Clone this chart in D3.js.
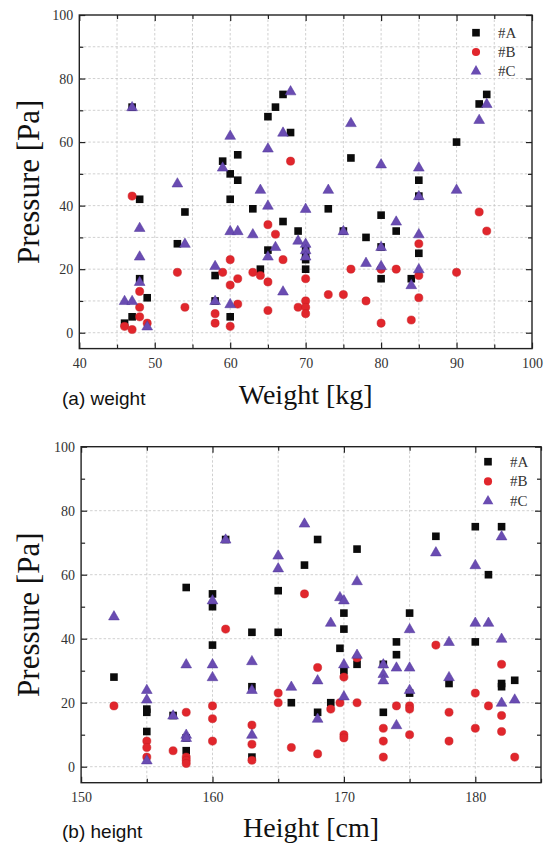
<!DOCTYPE html>
<html><head><meta charset="utf-8">
<script src="https://cdn.jsdelivr.net/npm/d3@7"></script>
<style>
html,body{margin:0;padding:0;background:#fff;}
svg{display:block;}
</style></head><body>
<script>
// ---------- DATA ----------
const seriesNames = ["#A", "#B", "#C"];

// (a) weight [kg] vs pressure [Pa]
const weightA = [[46,3],[47,5],[47,71],[48,42],[48,17],[49,11],[53,28],[54,38],[58,18],[58,10],[59,54],[60,50],[60,42],[60,5],[61,56],[61,48],[63,39],[64,20],[65,68],[65,26],[66,71],[67,75],[67,35],[68,63],[69,32],[70,26],[70,24],[70,23],[70,20],[73,39],[75,32],[76,55],[78,30],[80,37],[80,27],[80,17],[82,32],[84,17],[85,48],[85,43],[85,25],[90,60],[93,72],[94,75]];
const weightB = [[46,2],[47,43],[47,1],[48,13],[48,8],[48,5],[49,3],[53,19],[54,8],[58,6],[58,3],[59,19],[60,23],[60,15],[60,2],[61,17],[61,9],[63,19],[64,18],[65,34],[65,16],[65,7],[66,31],[67,23],[68,54],[69,8],[70,17],[70,10],[70,8],[70,6],[73,12],[75,12],[76,20],[78,10],[80,20],[80,3],[82,20],[84,4],[85,28],[85,18],[85,11],[90,19],[93,38],[94,32]];
const weightC = [[46,10],[47,71],[47,10],[48,33],[48,24],[48,16],[49,2],[53,47],[54,28],[58,21],[58,10],[59,52],[60,62],[60,32],[60,9],[61,32],[63,31],[64,45],[65,58],[65,40],[65,24],[66,27],[67,63],[67,13],[68,76],[69,29],[70,39],[70,28],[70,26],[70,24],[73,45],[75,32],[76,66],[78,22],[80,53],[80,27],[80,21],[82,35],[84,15],[85,52],[85,43],[85,31],[85,20],[90,45],[93,67],[94,72]];

// (b) height [cm] vs pressure [Pa]
const heightA = [[152.5,28],[155,18],[155,17],[155,11],[157,16],[158,56],[158,9],[158,5],[160,54],[160,50],[160,38],[161,71],[163,42],[163,25],[163,3],[165,55],[165,42],[166,20],[167,63],[168,71],[168,17],[169,20],[169.7,37],[170,48],[170,43],[170,30],[171,68],[171,32],[173,17],[173,32],[174,39],[174,35],[175,48],[175,23],[177,72],[178,26],[180,75],[180,39],[181,60],[182,75],[182,26],[182,25],[183,27]];
const heightB = [[152.5,19],[155,8],[155,6],[155,3],[157,5],[158,17],[158,3],[158,2],[158,1],[160,19],[160,15],[160,8],[161,43],[163,13],[163,7],[163,2],[165,23],[165,20],[166,6],[167,54],[168,31],[168,4],[169,18],[169.7,20],[170,28],[170,10],[170,9],[171,34],[171,20],[173,12],[173,8],[173,3],[174,19],[175,19],[175,18],[175,10],[177,38],[178,17],[178,8],[180,23],[180,12],[181,19],[182,32],[182,16],[182,11],[183,3]];
const heightC = [[152.5,47],[155,24],[155,21],[155,2],[157,16],[158,32],[158,10],[158,9],[160,52],[160,32],[160,28],[161,71],[163,33],[163,24],[163,10],[165,66],[165,62],[166,25],[167,76],[168,27],[168,15],[169,45],[169.7,53],[170,52],[170,32],[170,22],[171,58],[171,35],[173,32],[173,29],[173,27],[174,31],[174,13],[175,43],[175,31],[175,24],[177,67],[178,39],[178,28],[180,63],[180,45],[181,45],[182,72],[182,40],[182,20],[183,21]];

// ticks
const pressureTicks = [0, 20, 40, 60, 80, 100];
const pressureMinor = [10, 30, 50, 70, 90];
const weightTicks = [40, 50, 60, 70, 80, 90, 100];
const weightMinor = [45, 55, 65, 75, 85, 95];
const heightTicks = [150, 160, 170, 180];
const heightMinor = [155, 165, 175, 185];

// ---------- DRAW ----------
const W = 545, H = 845;
const svg = d3.select("body").append("svg").attr("width", W).attr("height", H);

const colors = {A: "#0b0b0b", B: "#e1262c", C: "#6a4cb2"};
const serif = "'Liberation Serif','Times New Roman',serif";
const sans = "'Liberation Sans',Arial,sans-serif";

function panel(cfg) {
  const g = svg.append("g");
  const x = d3.scaleLinear().domain(cfg.xDomain).range([cfg.left, cfg.right]);
  const y = d3.scaleLinear().domain([-5, 100]).range([cfg.bottom, cfg.top]);

  // grid
  g.append("g").selectAll("line").data(cfg.gridX).join("line")
    .attr("x1", d => x(d)).attr("x2", d => x(d))
    .attr("y1", cfg.top).attr("y2", cfg.bottom)
    .attr("stroke", "#c4c4c4").attr("stroke-width", 0.8).attr("stroke-dasharray", "2.5,2");
  g.append("g").selectAll("line").data(cfg.gridY).join("line")
    .attr("y1", d => y(d)).attr("y2", d => y(d))
    .attr("x1", cfg.left).attr("x2", cfg.right)
    .attr("stroke", "#c4c4c4").attr("stroke-width", 0.8).attr("stroke-dasharray", "2.5,2");

  // axes (inward ticks)
  const styleAxis = sel => {
    sel.select(".domain").remove();
    sel.selectAll(".tick line").attr("stroke", "#222").attr("stroke-width", 1.2);
    sel.selectAll("text").attr("font-family", serif).attr("font-size", 14).attr("fill", "#333");
  };
  g.append("g").attr("transform", `translate(0,${cfg.bottom})`)
    .call(d3.axisBottom(x).tickValues(cfg.xTicks).tickFormat(d3.format("d")).tickSizeInner(-6).tickSizeOuter(0).tickPadding(9)).call(styleAxis);
  g.append("g").attr("transform", `translate(0,${cfg.bottom})`)
    .call(d3.axisBottom(x).tickValues(cfg.xMinor).tickFormat("").tickSizeInner(-4).tickSizeOuter(0)).call(styleAxis);
  g.append("g").attr("transform", `translate(0,${cfg.top})`)
    .call(d3.axisTop(x).tickValues(cfg.xTicks).tickFormat("").tickSizeInner(-6).tickSizeOuter(0)).call(styleAxis);
  g.append("g").attr("transform", `translate(0,${cfg.top})`)
    .call(d3.axisTop(x).tickValues(cfg.xMinor).tickFormat("").tickSizeInner(-4).tickSizeOuter(0)).call(styleAxis);
  g.append("g").attr("transform", `translate(${cfg.left},0)`)
    .call(d3.axisLeft(y).tickValues(pressureTicks).tickFormat(d3.format("d")).tickSizeInner(-6).tickSizeOuter(0).tickPadding(6)).call(styleAxis);
  g.append("g").attr("transform", `translate(${cfg.left},0)`)
    .call(d3.axisLeft(y).tickValues(pressureMinor).tickFormat("").tickSizeInner(-4).tickSizeOuter(0)).call(styleAxis);
  g.append("g").attr("transform", `translate(${cfg.right},0)`)
    .call(d3.axisRight(y).tickValues(pressureTicks).tickFormat("").tickSizeInner(-6).tickSizeOuter(0)).call(styleAxis);
  g.append("g").attr("transform", `translate(${cfg.right},0)`)
    .call(d3.axisRight(y).tickValues(pressureMinor).tickFormat("").tickSizeInner(-4).tickSizeOuter(0)).call(styleAxis);

  // frame
  g.append("rect").attr("x", cfg.left).attr("y", cfg.top)
    .attr("width", cfg.right - cfg.left).attr("height", cfg.bottom - cfg.top)
    .attr("fill", "none").attr("stroke", "#222").attr("stroke-width", 1.4);

  // markers
  const sq = d3.symbol().type(d3.symbolSquare).size(58);
  const ci = d3.symbol().type(d3.symbolCircle).size(52);
  const tr = d3.symbol().type(d3.symbolTriangle).size(50);
  const pts = g.append("g");
  pts.append("g").selectAll("path").data(cfg.A).join("path")
    .attr("d", sq).attr("transform", d => `translate(${x(d[0])},${y(d[1])})`)
    .attr("fill", colors.A);
  pts.append("g").selectAll("path").data(cfg.B).join("path")
    .attr("d", ci).attr("transform", d => `translate(${x(d[0])},${y(d[1])})`)
    .attr("fill", colors.B).attr("stroke", "#c41d22").attr("stroke-width", 0.5);
  pts.append("g").selectAll("path").data(cfg.C).join("path")
    .attr("d", tr).attr("transform", d => `translate(${x(d[0])},${y(d[1]) + 0.5})`)
    .attr("fill", colors.C).attr("stroke", "#50379a").attr("stroke-width", 0.5);

  // legend
  const lg = g.append("g");
  const syms = [sq, ci, tr];
  const fills = [colors.A, colors.B, colors.C];
  seriesNames.forEach((nm, i) => {
    const ly = cfg.top + cfg.legTop + i * cfg.legGap;
    lg.append("path").attr("d", syms[i]).attr("fill", fills[i])
      .attr("transform", `translate(${cfg.right - cfg.legMk},${ly})`);
    lg.append("text").attr("x", cfg.right - cfg.legTx).attr("y", ly + 5)
      .attr("font-family", serif).attr("font-size", 15).attr("fill", "#333").text(nm);
  });

  // titles
  g.append("text").attr("x", (cfg.left + cfg.right) / 2).attr("y", cfg.xTitleY)
    .attr("text-anchor", "middle").attr("font-family", serif).attr("font-size", 28)
    .attr("fill", "#111").text(cfg.xTitle);
  g.append("text")
    .attr("transform", `translate(${cfg.yTitleX},${(cfg.top + cfg.bottom) / 2}) rotate(-90)`)
    .attr("text-anchor", "middle").attr("font-family", serif).attr("font-size", 31)
    .attr("fill", "#111").text("Pressure [Pa]");
  g.append("text").attr("x", 62).attr("y", cfg.xTitleY + 1)
    .attr("font-family", sans).attr("font-size", 19).attr("fill", "#111").text(cfg.caption);
}

panel({
  xDomain: [40, 100], left: 79.3, right: 532, top: 15, bottom: 348.6,
  xTicks: weightTicks, xMinor: weightMinor,
  gridX: d3.range(45, 100, 5), gridY: d3.range(0, 100, 10),
  A: weightA, B: weightB, C: weightC,
  legTop: 17.7, legGap: 19.3, legMk: 56, legTx: 34,
  xTitle: "Weight [kg]", xTitleY: 404, yTitleX: 39, caption: "(a) weight"
});
panel({
  xDomain: [150, 185], left: 81.1, right: 541, top: 446.7, bottom: 782.7,
  xTicks: heightTicks, xMinor: heightMinor,
  gridX: d3.range(155, 185, 5), gridY: [0, 20, 40, 60, 80],
  A: heightA, B: heightB, C: heightC,
  legTop: 15, legGap: 19.7, legMk: 53, legTx: 31,
  xTitle: "Height [cm]", xTitleY: 837, yTitleX: 39, caption: "(b) height"
});
</script>
</body></html>
